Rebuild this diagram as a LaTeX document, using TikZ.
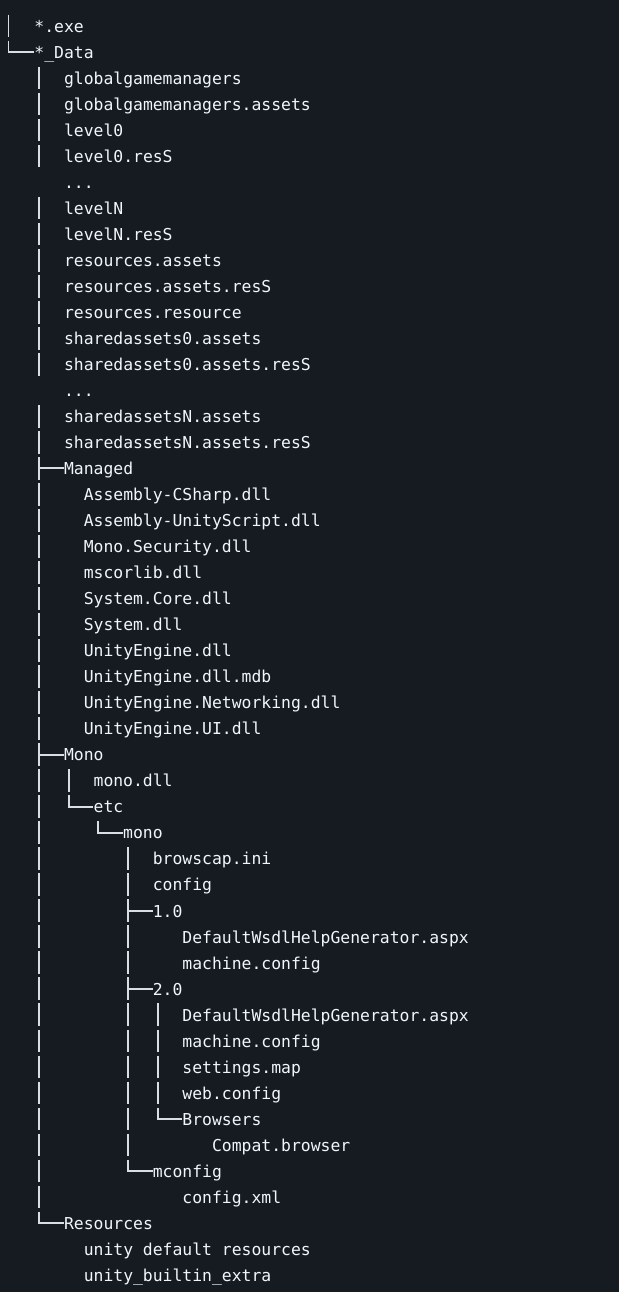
\documentclass[tikz,border=0pt]{standalone}
\usepackage{fontspec}
\newfontfamily\codice{DejaVu Sans Mono}
\definecolor{sfondo}{HTML}{161B22}
\definecolor{testo}{HTML}{F0F6FC}
\definecolor{linea}{HTML}{D8DEE4}
\begin{document}
\begin{tikzpicture}[x=9.87pt, y=-26.02pt,
    every node/.style={anchor=west, inner sep=0pt, text height=15.6pt, text depth=3pt,
        text=testo, font=\codice\fontsize{16.4pt}{20pt}\selectfont},
    ramo/.style={draw=linea, line width=1.9pt},
    barra/.style={ramo, dash pattern=on 22.6pt off 3.42pt}]
            \fill[sfondo] (-4.6pt,0pt) rectangle (614.4pt,-1292pt);

            % Livello superiore
            \node (exe) at (3,1) {*.exe};
            \node (data) at (3,2) {*\_Data};

            % Cartella *_Data
            \node (ggm) at (6,3) {globalgamemanagers};
            \node (ggma) at (6,4) {globalgamemanagers.assets};
            \node (lv0) at (6,5) {level0};
            \node (lv0r) at (6,6) {level0.resS};
            \node (pt1) at (6,7) {...};
            \node (lvn) at (6,8) {levelN};
            \node (lvnr) at (6,9) {levelN.resS};
            \node (resa) at (6,10) {resources.assets};
            \node (resar) at (6,11) {resources.assets.resS};
            \node (resr) at (6,12) {resources.resource};
            \node (sa0) at (6,13) {sharedassets0.assets};
            \node (sa0r) at (6,14) {sharedassets0.assets.resS};
            \node (pt2) at (6,15) {...};
            \node (san) at (6,16) {sharedassetsN.assets};
            \node (sanr) at (6,17) {sharedassetsN.assets.resS};

            % Managed
            \node (managed) at (6,18) {Managed};
            \node (acs) at (8,19) {Assembly-CSharp.dll};
            \node (aus) at (8,20) {Assembly-UnityScript.dll};
            \node (msec) at (8,21) {Mono.Security.dll};
            \node (mscor) at (8,22) {mscorlib.dll};
            \node (score) at (8,23) {System.Core.dll};
            \node (sys) at (8,24) {System.dll};
            \node (ue) at (8,25) {UnityEngine.dll};
            \node (uemdb) at (8,26) {UnityEngine.dll.mdb};
            \node (uenet) at (8,27) {UnityEngine.Networking.dll};
            \node (ueui) at (8,28) {UnityEngine.UI.dll};

            % Mono
            \node (mono) at (6,29) {Mono};
            \node (monodll) at (9,30) {mono.dll};
            \node (etc) at (9,31) {etc};
            \node (monoetc) at (12,32) {mono};
            \node (bcap) at (15,33) {browscap.ini};
            \node (cfg) at (15,34) {config};
            \node (v10) at (15,35) {1.0};
            \node (dw10) at (18,36) {DefaultWsdlHelpGenerator.aspx};
            \node (mc10) at (18,37) {machine.config};
            \node (v20) at (15,38) {2.0};
            \node (dw20) at (18,39) {DefaultWsdlHelpGenerator.aspx};
            \node (mc20) at (18,40) {machine.config};
            \node (smap) at (18,41) {settings.map};
            \node (wcfg) at (18,42) {web.config};
            \node (brw) at (18,43) {Browsers};
            \node (compat) at (21,44) {Compat.browser};
            \node (mcfg) at (15,45) {mconfig};
            \node (cxml) at (18,46) {config.xml};

            % Resources
            \node (res) at (6,47) {Resources};
            \node (udr) at (8,48) {unity default resources};
            \node (ube) at (8,49) {unity\_builtin\_extra};

            % Linee dell'albero
            \draw[barra] (0.4,0.566) -- (0.4,1.434);
            \draw[ramo] (0.4,1.566) |- (data);
            \draw[barra] (3.5,2.566) -- (3.5,6.434);
            \draw[barra] (3.5,7.566) -- (3.5,14.434);
            \draw[barra] (3.5,15.566) -- (3.5,46.434);
            \draw[ramo] (3.5,18) -- (managed);
            \draw[ramo] (3.5,29) -- (mono);
            \draw[ramo] (3.5,46.566) |- (res);
            \draw[barra] (6.5,29.566) -- (6.5,30.434);
            \draw[ramo] (6.5,30.566) |- (etc);
            \draw[ramo] (9.5,31.566) |- (monoetc);
            \draw[barra] (12.5,32.566) -- (12.5,44.434);
            \draw[ramo] (12.5,35) -- (v10);
            \draw[ramo] (12.5,38) -- (v20);
            \draw[ramo] (12.5,44.566) |- (mcfg);
            \draw[barra] (15.5,38.566) -- (15.5,42.434);
            \draw[ramo] (15.5,42.566) |- (brw);
\end{tikzpicture}
\end{document}
